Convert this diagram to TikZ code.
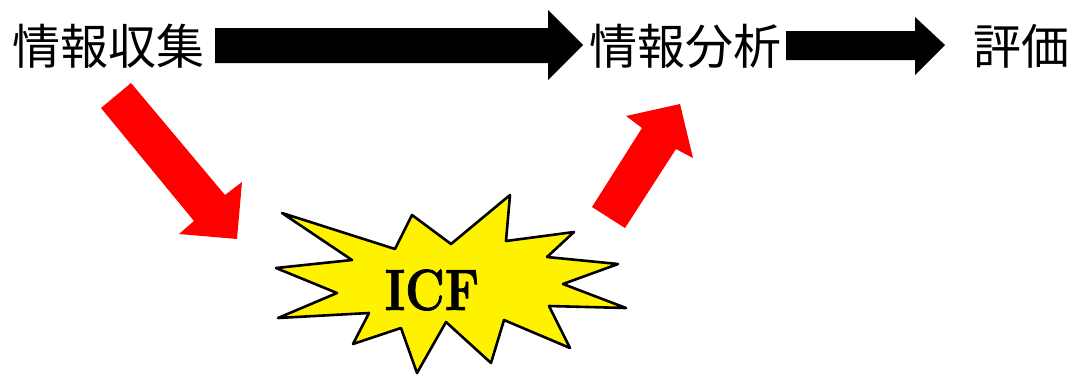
\documentclass[tikz,border=0pt]{standalone}
\usepackage{fontspec}
\newfontfamily\cjkfont{Noto Sans CJK JP}
\newfontfamily\icffont[FakeBold=1.5]{Latin Modern Roman}
\begin{document}
\begin{tikzpicture}[x=1pt,y=-1pt,
  label/.style={font=\cjkfont\fontsize{48}{52}\selectfont, inner sep=0pt, anchor=center},
  blockarrow/.style={fill=black, draw=none},
  redarrow/.style={fill=red, draw=none},
  burst/.style={fill=yellow, draw=black, line width=2.6pt, line join=round}]
\useasboundingbox (0,0) rectangle (1075,376);

\node[label] (collect) at (108.5,46) {情報収集};
\node[label] (analyse) at (685,46) {情報分析};
\node[label] (evaluate) at (1021,46) {評価};

% black block arrows
\draw[blockarrow] (215,28) -- (548,28) -- (548,10) -- (583,45) -- (548,80) -- (548,63) -- (215,63) -- cycle;
\draw[blockarrow] (786,31) -- (915,31) -- (915,17) -- (945,45) -- (915,75) -- (915,60) -- (786,60) -- cycle;

% starburst
\draw[burst] (282,213) -- (395,249) -- (412,215) -- (451,244) -- (510,195) -- (506,241)
  -- (574,232) -- (547,257) -- (618,264) -- (563,284) -- (626,308) -- (549,306)
  -- (570,348) -- (504,320) -- (491,363) -- (446,322) -- (417,373) -- (401,328)
  -- (353,344) -- (369,313) -- (278,318) -- (337,293) -- (276,268) -- (352,260) -- cycle;
\node (icf) at (432,290) {\scalebox{0.84}[1]{\icffont\fontsize{58}{64}\selectfont\bfseries ICF}};

% red arrows
\draw[redarrow] (101,108) -- (131,83) -- (225,195) -- (242,182) -- (237,239) -- (179,234) -- (194,221) -- cycle;
\draw[redarrow] (592,207) -- (625,228) -- (676,149) -- (693,158) -- (680,104) -- (626,116) -- (642,128) -- cycle;
\end{tikzpicture}
\end{document}
